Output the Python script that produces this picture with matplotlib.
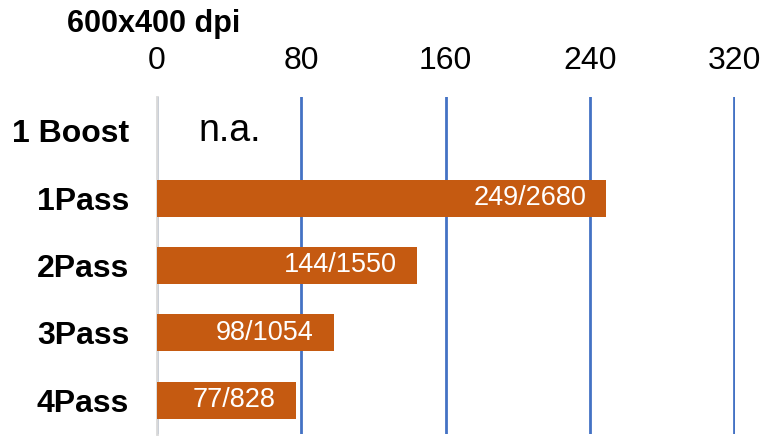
import matplotlib.pyplot as plt
import numpy as np

plt.rcParams['font.family'] = ['Liberation Sans', 'DejaVu Sans']

categories = ['1 Boost', '1Pass', '2Pass', '3Pass', '4Pass']
fps = [np.nan, 249, 144, 98, 77]
ms = [None, 2680, 1550, 1054, 828]
xticks = [0, 80, 160, 240, 320]
title = '600x400 dpi'

W, H = 768, 440
fig = plt.figure(figsize=(W / 100, H / 100), dpi=100)
ax = fig.add_axes([157 / W, 1 - 434 / H, (735 - 157) / W, (434 - 97) / H])

y = np.arange(len(categories))
ax.barh(y, fps, height=0.55, color='#C55A11', zorder=3)

for yi, v, m in zip(y, fps, ms):
    if np.isnan(v):
        ax.annotate('n.a.', (0, yi), xytext=(41, 0), textcoords='offset pixels',
                    ha='left', va='center', fontsize=27, color='black')
    else:
        ax.annotate(f'{v}/{m}', (v, yi), xytext=(-20, 0), textcoords='offset pixels',
                    ha='right', va='center', fontsize=19.5, color='white', zorder=4)

ax.set_xlim(0, 320.5)
ax.set_ylim(len(categories) - 0.5, -0.5)
ax.set_xticks(xticks)
ax.set_yticks(y)
ax.set_yticklabels(categories, fontsize=23, fontweight='bold')
ax.xaxis.tick_top()
ax.tick_params(axis='x', length=0, pad=15, labelsize=23)
ax.tick_params(axis='y', length=0, pad=20)
ax.grid(axis='x', color='#4472C4', linewidth=2, zorder=1)
ax.set_axisbelow(True)
for s in ['top', 'right', 'bottom']:
    ax.spines[s].set_visible(False)
ax.spines['left'].set_color('#D9D9D9')
ax.spines['left'].set_linewidth(2)
ax.spines['left'].set_zorder(2)

fig.text(154 / W, 1 - 32 / H, title, ha='center', va='baseline',
         fontsize=22, fontweight='bold')

fig.savefig('out.png', dpi=100)
